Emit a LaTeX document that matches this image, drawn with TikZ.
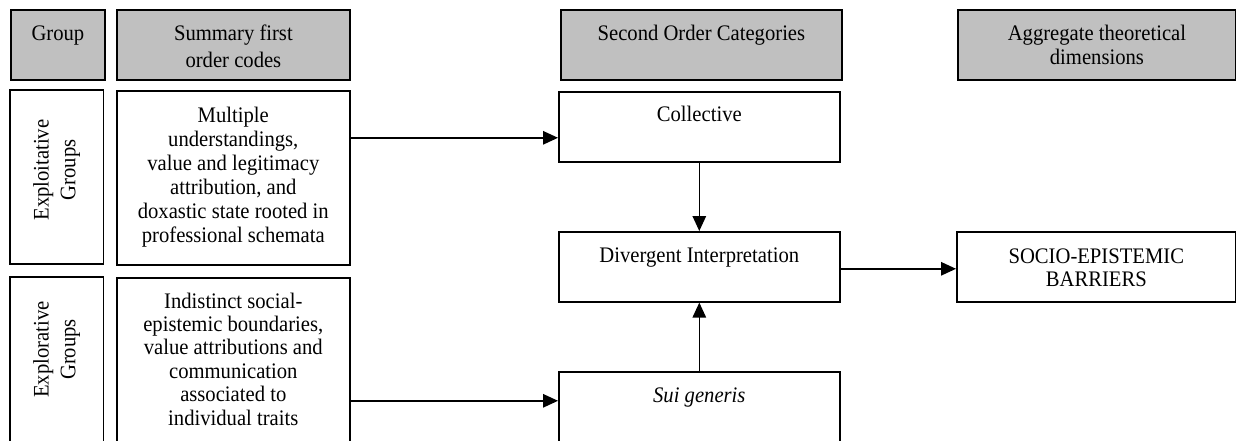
\documentclass[tikz,border=0pt]{standalone}
\usepackage{fontspec}
\setmainfont{Liberation Serif}[FakeStretch=0.93]
\usetikzlibrary{arrows.meta}
\definecolor{hdrgray}{RGB}{192,192,192}
% #1 width, #2 height, #3 first baseline below top, #4 line pitch, #5 text
\newcommand{\boxtext}[5]{\parbox[c][#2][t]{#1}{\centering\fontsize{22.2pt}{#4}\selectfont\rule{0pt}{#3}#5\par}}
\begin{document}
\begin{tikzpicture}[x=1pt,y=1pt,
  frame/.style={draw, line width=1.6pt, inner sep=0pt, anchor=north west},
  header/.style={frame, fill=hdrgray, line width=1.8pt},
  vlabel/.style={draw, line width=1.6pt, inner sep=0pt, rotate=90, align=center,
    font=\fontsize{22.2pt}{26.7pt}\selectfont},
  link/.style={-{Triangle[length=15pt,width=13.5pt]}, line width=1.4pt}]
\useasboundingbox (0,0) rectangle (1236,-441);
\clip (0,0) rectangle (1236,-441);

% column headers
\node[header] (hgroup) at (10,-9.5) {\boxtext{94pt}{70pt}{30.5pt}{24pt}{Group}};
\node[header] (hsum) at (116,-9.5) {\boxtext{233pt}{70pt}{30.5pt}{27pt}{Summary first\\order codes}};
\node[header] (hsec) at (560,-9.5) {\boxtext{281pt}{70pt}{30.5pt}{24pt}{Second Order Categories}};
\node[header] (hagg) at (957,-9.5) {\boxtext{278pt}{70pt}{30.5pt}{24pt}{Aggregate theoretical\\dimensions}};

% group labels (rotated)
\node[vlabel, minimum width=174pt, minimum height=93.5pt] (gexploit) at (56.75,-177)
  {\hspace*{14pt}Exploitative\\\hspace*{14pt}Groups};
\node[vlabel, minimum width=168pt, minimum height=93.5pt] (gexplor) at (56.75,-361)
  {\hspace*{23pt}Explorative\\\hspace*{23pt}Groups};

% first order codes
\node[frame] (multi) at (116,-90) {\boxtext{233pt}{174pt}{31.7pt}{24pt}{Multiple\\understandings,\\value and legitimacy\\attribution, and\\doxastic state rooted in\\professional schemata}};
\node[frame] (indist) at (116,-277) {\boxtext{233pt}{168pt}{30.3pt}{23.4pt}{Indistinct social-\\epistemic boundaries,\\value attributions and\\communication\\associated to\\individual traits}};

% second order categories
\node[frame] (coll) at (558,-91) {\boxtext{281pt}{70pt}{29.7pt}{24pt}{Collective}};
\node[frame] (diverg) at (558,-231) {\boxtext{281pt}{70pt}{30.7pt}{24pt}{Divergent Interpretation}};
\node[frame] (sui) at (558,-371) {\boxtext{281pt}{74pt}{30.7pt}{24pt}{\textit{Sui generis}}};

% aggregate dimension
\node[frame] (barrier) at (956,-231) {\boxtext{279pt}{70pt}{31.5pt}{23.4pt}{SOCIO-EPISTEMIC\\BARRIERS}};

% connectors
\coordinate (inColl) at ([yshift=-11pt]coll.west);
\draw[link] (multi.east |- inColl) -- (inColl);
\draw[link] (coll.south) -- (diverg.north);
\draw[link] (sui.north) -- (diverg.south);
\coordinate (inBar) at ([yshift=-2pt]barrier.west);
\draw[link] (diverg.east |- inBar) -- (inBar);
\coordinate (inSui) at ([yshift=8pt]sui.west);
\draw[link] (indist.east |- inSui) -- (inSui);
\end{tikzpicture}
\end{document}
